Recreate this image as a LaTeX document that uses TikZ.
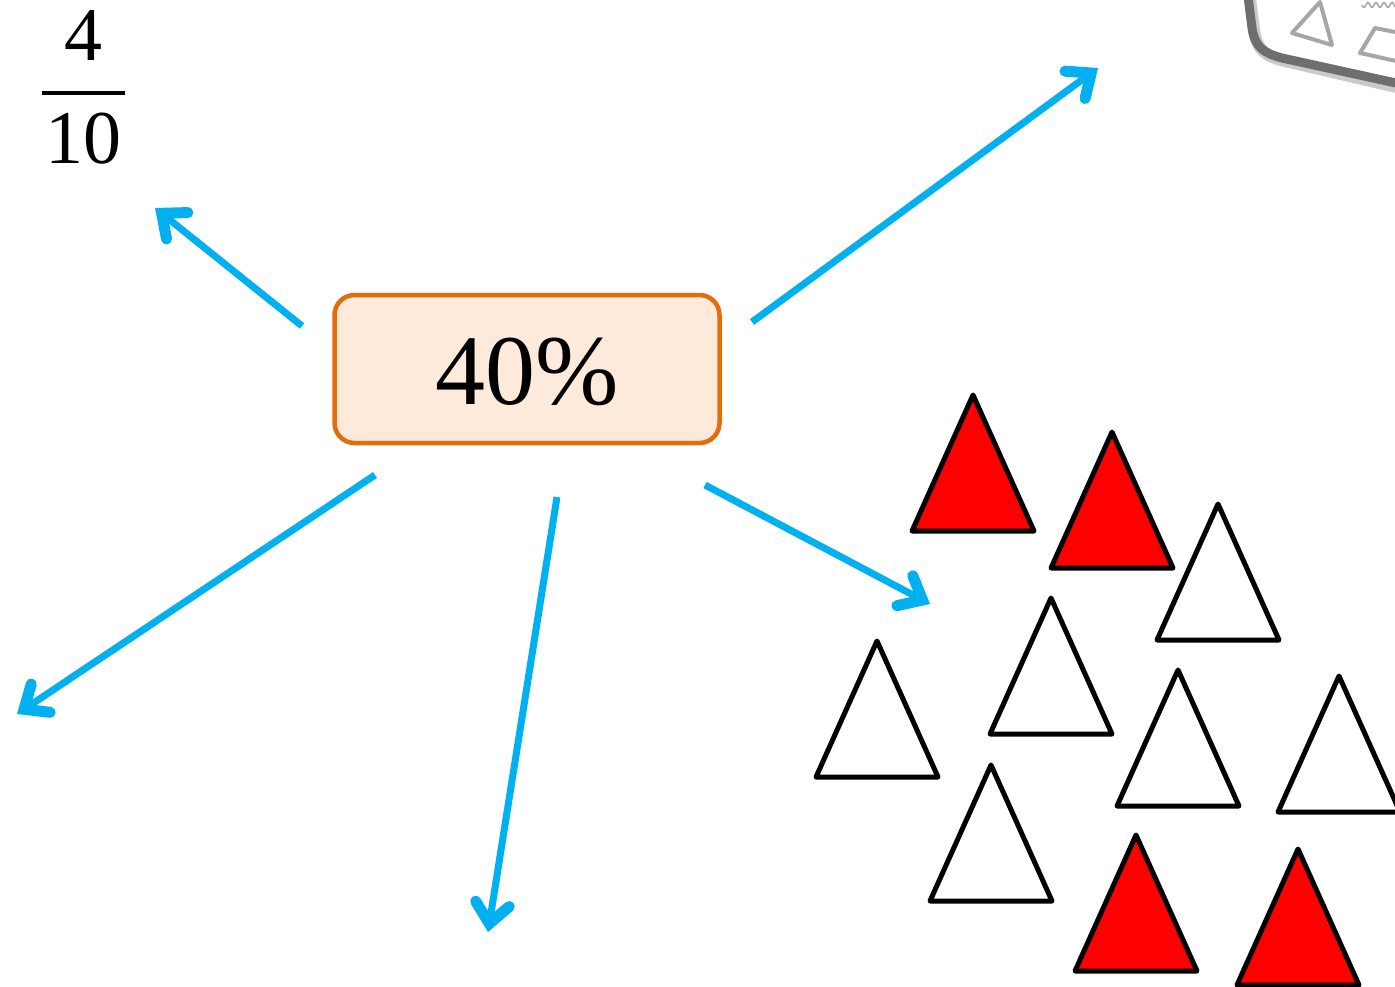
\documentclass[tikz,border=0pt]{standalone}
\usepackage{fontspec}
\setmainfont{Liberation Serif}
\usetikzlibrary{arrows.meta}
\definecolor{arrowblue}{HTML}{00B0F0}
\definecolor{boxedge}{HTML}{E46C0A}
\definecolor{boxfill}{HTML}{FDEADA}
\definecolor{trired}{HTML}{FF0000}
\definecolor{cardgray}{HTML}{6E6E6E}
\definecolor{cardlight}{HTML}{A6A6A6}
\begin{document}
\begin{tikzpicture}[x=1pt,y=-1pt,
  pointer/.style={draw=arrowblue,line width=7pt,
    -{Straight Barb[length=20pt,width=34pt,line width=11pt,line cap=round,line join=miter]}},
  percentbox/.style={draw=boxedge,fill=boxfill,line width=4.5pt,rounded corners=20pt,
    minimum width=385pt,minimum height=148pt,inner sep=0pt},
  bigtext/.style={font=\fontsize{100}{110}\selectfont,inner sep=0pt},
  fractext/.style={font=\fontsize{76}{80}\selectfont,inner sep=0pt},
  tri/.style={draw=black,line width=5pt,line join=round},
  tripic/.pic={\draw[tri,fill=#1] (-61,68) -- (0,-68) -- (61,68) -- cycle;}
]
\useasboundingbox (0,0) rectangle (1395,987);

% fraction 4/10
\node[fractext] (num) at (83,35) {4};
\node[fractext] (den) at (83,139) {10};
\draw[line width=4.5pt] (42,93) -- (125,93);

% central percentage box
\node[percentbox] (pct) at (527,369) {};
\node[bigtext] (pcttext) at (527,372) {40\%};

% arrow end points
\coordinate (a1s) at (302,326);  \coordinate (a1e) at (155,208);
\coordinate (a2s) at (752,322);  \coordinate (a2e) at (1098,68);
\coordinate (a3s) at (375,475);  \coordinate (a3e) at (17,714);
\coordinate (a4s) at (557,497);  \coordinate (a4e) at (488,932);
\coordinate (a5s) at (705,485);  \coordinate (a5e) at (930,604);

\draw[pointer] (a1s) -- (a1e);
\draw[pointer] (a2s) -- (a2e);
\draw[pointer] (a3s) -- (a3e);
\draw[pointer] (a4s) -- (a4e);
\draw[pointer] (a5s) -- (a5e);

% triangles: four red, six white
\pic at (973,463)  {tripic=trired};
\pic at (1112,500) {tripic=trired};
\pic at (1218,572) {tripic=white};
\pic at (1051,666) {tripic=white};
\pic at (877,709)  {tripic=white};
\pic at (1178,738) {tripic=white};
\pic at (1339,744) {tripic=white};
\pic at (991,833)  {tripic=white};
\pic at (1136,903) {tripic=trired};
\pic at (1298,917) {tripic=trired};

% corner of a grey card, top right
\draw[cardlight!60,line width=12pt,line cap=round]
  (1249,-10) -- (1254,30) .. controls (1257,50) and (1265,56) .. (1285,61) -- (1405,89);
\draw[cardgray,line width=9pt,line cap=round]
  (1247,-12) -- (1252,28) .. controls (1255,47) and (1263,53) .. (1282,58) -- (1405,85);
\draw[cardlight,line width=4pt,line join=round] (1320,2) -- (1292,33) -- (1332,45) -- cycle;
\draw[cardlight,line width=4pt,line join=round] (1405,34) -- (1375,28) -- (1360,53) -- (1405,63);
\draw[cardlight,line width=1.5pt] plot[domain=1362:1395,samples=40] (\x,{5+2.5*sin((\x-1362)*45)});
\end{tikzpicture}
\end{document}
